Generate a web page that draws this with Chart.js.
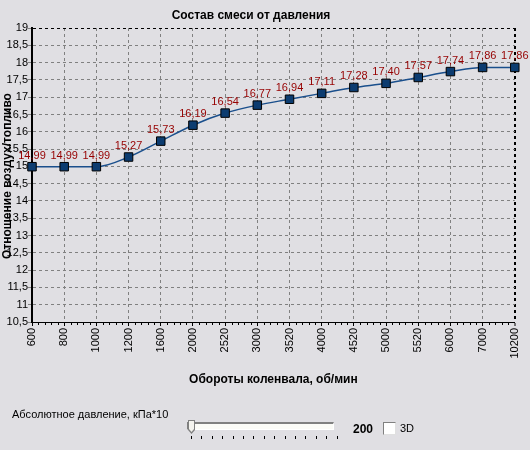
<!DOCTYPE html>
<html>
<head>
<meta charset="utf-8">
<script src="https://cdn.jsdelivr.net/npm/chart.js@4"></script>
<style>
    body { margin: 0; background: #e0dfe3; font-family: "Liberation Sans", Arial, sans-serif; }
    #wrap { position: relative; width: 530px; height: 450px; }
    #chart { position: absolute; left: 0; top: 0; }
    .txt { position: absolute; font-size: 11px; color: #000; white-space: nowrap; line-height: 13px; }
    #track { position: absolute; left: 187px; top: 422px; width: 145px; height: 5px;
             border-top: 2px solid #808080; border-left: 1px solid #808080;
             border-bottom: 1px solid #fff; border-right: 1px solid #fff; background: #fbfbf7; }
    #thumb { position: absolute; left: 188px; top: 420px; width: 7px; height: 14px; background: #808080;
             clip-path: polygon(0 0, 100% 0, 100% 72%, 50% 100%, 0 72%); }
    #thumb div { position: absolute; left: 1px; top: 1px; width: 5px; height: 11px; background: #f4f3ee;
             clip-path: polygon(0 0, 100% 0, 100% 72%, 50% 100%, 0 72%); }
    .tick { position: absolute; top: 436px; width: 1px; height: 3px; background: #000; }
    #box { position: absolute; left: 383px; top: 422px; width: 11px; height: 11px; background: #fff;
           border: 1px solid; border-color: #808080 #e0e0e0 #e0e0e0 #808080; }
</style>
</head>
<body>
<div id="wrap">
    <canvas id="chart" width="530" height="450"></canvas>
    <div class="txt" style="left:12px; top:408px;">Абсолютное давление, кПа*10</div>
    <div id="track"></div>
    <div id="thumb"><div></div></div>
    <div class="txt" style="left:353px; top:423px; font-size:12px; font-weight:bold;">200</div>
    <div id="box"></div>
    <div class="txt" style="left:400px; top:422px;">3D</div>
</div>
<script>
const rpm = ['600', '800', '1000', '1200', '1600', '2000', '2520', '3000', '3520', '4000', '4520', '5000', '5520', '6000', '7000', '10200'];
const ratio = [14.99, 14.99, 14.99, 15.27, 15.73, 16.19, 16.54, 16.77, 16.94, 17.11, 17.28, 17.40, 17.57, 17.74, 17.86, 17.86];
const yMin = 10.5;
const yMax = 19;
const yStep = 0.5;
const chartTitle = 'Состав смеси от давления';
const xTitle = 'Обороты коленвала, об/мин';
const yTitle = 'Отношение воздух/топливо';

const FONT = '"Liberation Sans", Arial, sans-serif';
Chart.defaults.font.family = FONT;
Chart.defaults.color = '#000';

// slider ticks under the pressure control
const wrap = document.getElementById('wrap');
for (let i = 0; i < 15; i++) {
    const t = document.createElement('div');
    t.className = 'tick';
    t.style.left = Math.round(191 + i * 10.4) + 'px';
    wrap.appendChild(t);
}

const comma = v => String(v).replace('.', ',');

// background + titles (drawn first so tick labels sit on top)
const backdrop = {
    id: 'backdrop',
    beforeDraw(chart) {
        const ctx = chart.ctx;
        const a = chart.chartArea;
        ctx.save();
        ctx.fillStyle = '#e0dfe3';
        ctx.fillRect(0, 0, chart.width, chart.height);
        ctx.fillStyle = '#000';
        ctx.font = 'bold 12px ' + FONT;
        ctx.textAlign = 'center';
        ctx.textBaseline = 'middle';
        ctx.fillText(chartTitle, 251, 16);
        ctx.fillText(xTitle, (a.left + a.right) / 2, 380);
        ctx.translate(8, 176);
        ctx.rotate(-Math.PI / 2);
        ctx.fillText(yTitle, 0, 0);
        ctx.restore();
    }
};

// small ticks between the rpm marks
const minorTicks = {
    id: 'minorTicks',
    afterDraw(chart) {
        const ctx = chart.ctx;
        const x = chart.scales.x;
        const bottom = chart.chartArea.bottom;
        ctx.save();
        ctx.strokeStyle = '#000';
        ctx.lineWidth = 1;
        ctx.beginPath();
        for (let i = 0; i < rpm.length - 1; i++) {
            const p0 = x.getPixelForTick(i);
            const p1 = x.getPixelForTick(i + 1);
            for (let k = 1; k < 5; k++) {
                const px = Math.round(p0 + (p1 - p0) * k / 5) + 0.5;
                ctx.moveTo(px, bottom);
                ctx.lineTo(px, bottom + 3);
            }
        }
        ctx.stroke();
        ctx.restore();
    }
};

// value labels above the points
const valueLabels = {
    id: 'valueLabels',
    afterDatasetsDraw(chart) {
        const ctx = chart.ctx;
        const meta = chart.getDatasetMeta(0);
        ctx.save();
        ctx.fillStyle = '#960000';
        ctx.font = '11px ' + FONT;
        ctx.textAlign = 'center';
        ctx.textBaseline = 'alphabetic';
        meta.data.forEach((pt, i) => {
            ctx.fillText(ratio[i].toFixed(2).replace('.', ','), pt.x, pt.y - 8);
        });
        ctx.restore();
    }
};

new Chart(document.getElementById('chart'), {
    type: 'line',
    data: {
        labels: rpm,
        datasets: [{
            data: ratio,
            borderColor: '#1a4f8c',
            borderWidth: 1.5,
            cubicInterpolationMode: 'monotone',
            pointStyle: 'rect',
            pointRadius: 6,
            pointBackgroundColor: '#0c3c70',
            pointBorderColor: '#000',
            pointBorderWidth: 1,
            clip: false
        }]
    },
    options: {
        responsive: false,
        devicePixelRatio: 1,
        animation: false,
        events: [],
        layout: { padding: { left: 0, top: 28, right: 14, bottom: 0 } },
        plugins: {
            legend: { display: false },
            title: { display: false },
            tooltip: { enabled: false }
        },
        scales: {
            x: {
                ticks: { autoSkip: false, minRotation: 90, maxRotation: 90, padding: 2, font: { size: 11 } },
                grid: {
                    color: c => c.index === rpm.length - 1 ? '#000' : '#808080',
                    lineWidth: c => c.index === rpm.length - 1 ? 2 : 1,
                    tickLength: 4,
                    tickColor: '#000',
                    tickWidth: 1
                },
                border: { color: '#000', width: 1, dash: [3, 3] },
                afterFit: s => { s.height = 128; }
            },
            y: {
                min: yMin,
                max: yMax,
                ticks: { stepSize: yStep, padding: 0, font: { size: 11 }, callback: v => comma(v) },
                grid: {
                    color: c => c.tick && c.tick.value === yMax ? '#000' : '#808080',
                    tickLength: 4,
                    tickColor: '#808080',
                    tickBorderDash: [3, 3]
                },
                border: { color: '#000', width: 2, dash: [3, 3] },
                afterFit: s => { s.width = 32; }
            }
        }
    },
    plugins: [backdrop, minorTicks, valueLabels]
});
</script>
</body>
</html>
